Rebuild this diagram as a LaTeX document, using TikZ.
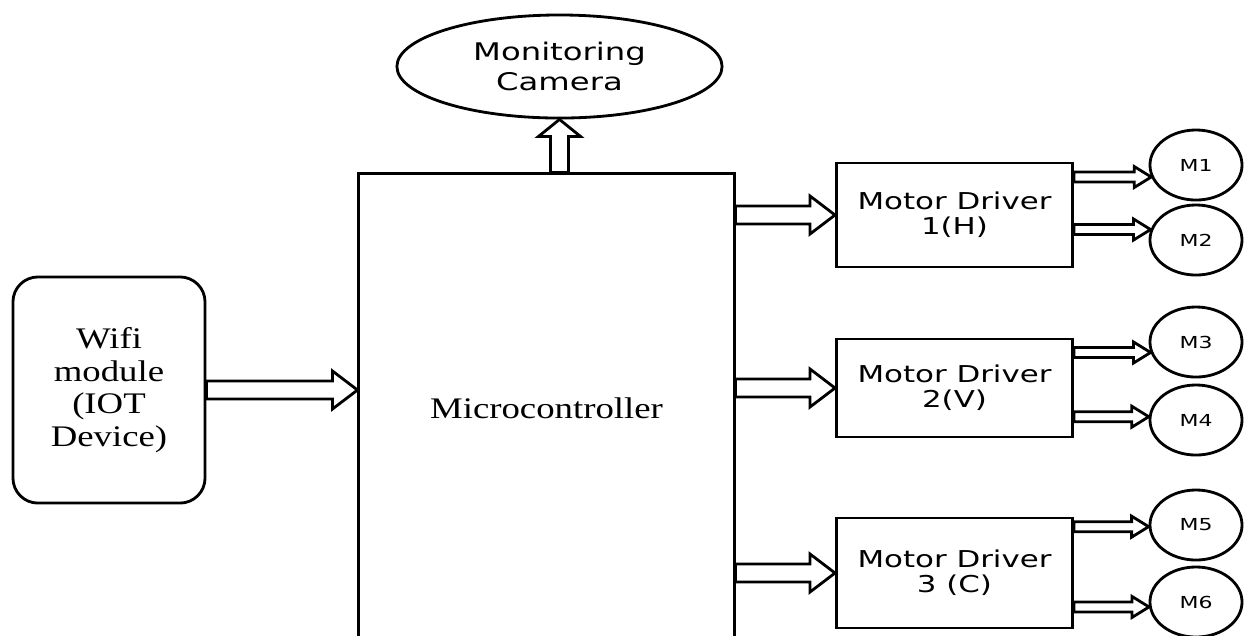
\documentclass[tikz,border=0pt]{standalone}
\usepackage{fontspec}
\usetikzlibrary{shapes.geometric}
\usetikzlibrary{calc}
\newfontfamily\blockserif[FakeStretch=1.23]{Liberation Serif}
\newfontfamily\blocksans[FakeStretch=1.33]{DejaVu Sans}
\tikzset{
  block arrow/.style n args={3}{draw, fill=white, line width=0.8pt, line join=miter,
    to path={($(\tikztotarget)!#3!(\tikztostart)$) coordinate (ba-h)
      ($(\tikztostart)!#1!90:(\tikztotarget)$)
      -- ($(ba-h)!#1!90:(\tikztotarget)$) -- ($(ba-h)!#2!90:(\tikztotarget)$)
      -- (\tikztotarget)
      -- ($(ba-h)!#2!-90:(\tikztotarget)$) -- ($(ba-h)!#1!-90:(\tikztotarget)$)
      -- ($(\tikztostart)!#1!-90:(\tikztotarget)$) -- cycle}},
  fat arrow/.style={block arrow={0.09cm}{0.19cm}{0.25cm}},
  cam arrow/.style={block arrow={0.09cm}{0.21cm}{0.17cm}},
  thin arrow/.style={block arrow={0.05cm}{0.105cm}{0.17cm}},
  driver/.style={draw, line width=0.8pt, minimum width=2.36cm, inner sep=0pt,
    align=center, font=\blocksans\fontsize{6.6}{7.0}\selectfont},
  motor/.style={draw, ellipse, line width=0.8pt, minimum width=0.92cm,
    minimum height=0.70cm, inner sep=0pt, font=\blocksans\fontsize{4.7}{5}\selectfont},
}

\begin{document}
\begin{tikzpicture}[x=0.01cm, y=-0.01cm]
\path[use as bounding box] (0,0) rectangle (1245,635);
\clip (0,0) rectangle (1245,635);

\node[draw, line width=0.8pt, minimum width=3.75cm, minimum height=5.26cm] (mcu) at (546.5,437) {};
\node[font=\blockserif\fontsize{8.5}{9.3}\selectfont] (mcutext) at (546.5,408) {Microcontroller};

\node[draw, line width=0.8pt, rounded corners=0.25cm, minimum width=1.92cm, minimum height=2.26cm,
  align=center, font=\blockserif\fontsize{8.5}{9.3}\selectfont] (wifi) at (109,390) {Wifi\\module\\(IOT\\Device)};

\node[draw, ellipse, line width=0.8pt, minimum width=3.25cm, minimum height=1.03cm, inner sep=0pt,
  align=center, font=\blocksans\fontsize{6.9}{8.5}\selectfont] (cam) at (559.5,66.5) {Monitoring\\Camera};

\node[driver, minimum height=1.04cm] (drv1) at (954.5,215) {Motor Driver\\1(H)};
\node[driver, minimum height=0.98cm] (drv2) at (954.5,388) {Motor Driver\\2(V)};
\node[driver, minimum height=1.10cm] (drv3) at (954.5,573) {Motor Driver\\3 (C)};

\node[motor] (m1) at (1196,165) {M1};
\node[motor] (m2) at (1196,240) {M2};
\node[motor] (m3) at (1196,342) {M3};
\node[motor] (m4) at (1196,420) {M4};
\node[motor] (m5) at (1196,525) {M5};
\node[motor] (m6) at (1196,602) {M6};

% arrow ends on the box sides
\coordinate (mcu-in) at (wifi.east -| mcu.west);
\coordinate (cam-in) at (cam.south |- mcu.north);
\coordinate (drv1-in) at (drv1.west -| mcu.east);
\coordinate (drv2-in) at (drv2.west -| mcu.east);
\coordinate (drv3-in) at (drv3.west -| mcu.east);

\path (wifi.east) edge[fat arrow] (mcu-in);
\path (cam-in) edge[cam arrow] (cam.south);
\path (drv1-in) edge[fat arrow] (drv1.west);
\path (drv2-in) edge[fat arrow] (drv2.west);
\path (drv3-in) edge[fat arrow] (drv3.west);

\coordinate (m1-in) at (m1.195 -| drv1.east);
\coordinate (m2-in) at (m2.167 -| drv1.east);
\coordinate (m3-in) at (m3.193 -| drv2.east);
\coordinate (m4-in) at (m4.176 -| drv2.east);
\coordinate (m5-in) at (m5.182 -| drv3.east);
\coordinate (m6-in) at (m6.186 -| drv3.east);
\path (m1-in) edge[thin arrow] (m1.195);
\path (m2-in) edge[thin arrow] (m2.167);
\path (m3-in) edge[thin arrow] (m3.193);
\path (m4-in) edge[thin arrow] (m4.176);
\path (m5-in) edge[thin arrow] (m5.182);
\path (m6-in) edge[thin arrow] (m6.186);
\end{tikzpicture}
\end{document}
